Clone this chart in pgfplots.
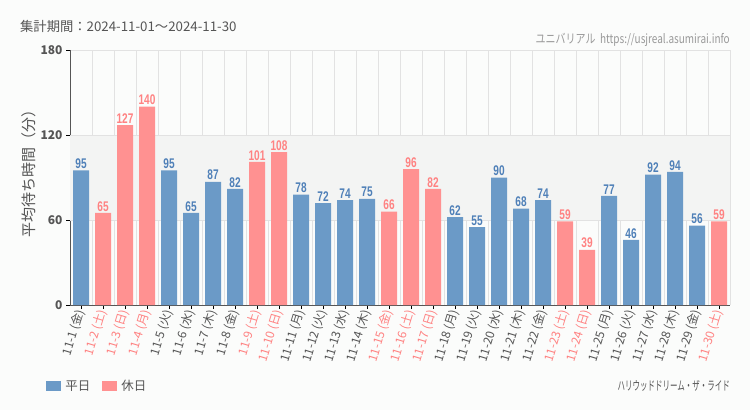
\documentclass[border=0pt]{standalone}
\usepackage{pgfplots}
\pgfplotsset{compat=1.18}
\usepackage{fontspec}
\setmainfont{Noto Sans CJK JP}
\newfontfamily\jp{Noto Sans CJK JP}
\newfontfamily\cond[FakeStretch=0.72]{Liberation Sans}
\newfontfamily\condjp[FakeStretch=0.8]{Noto Sans CJK JP}
\newfontfamily\condjpb[FakeStretch=0.6]{Noto Sans CJK JP}
\definecolor{bg}{HTML}{FBFCFB}
\definecolor{wkbar}{HTML}{6B9AC7}
\definecolor{hobar}{HTML}{FF9191}
\definecolor{wktxt}{HTML}{4F80B8}
\definecolor{hotxt}{HTML}{FF8282}
\definecolor{txt}{HTML}{555555}
\definecolor{gridc}{HTML}{E2E2E2}
\definecolor{band}{HTML}{F3F4F3}
\newcommand{\h}[1]{\textcolor{hotxt}{#1}}
\begin{document}
\begin{tikzpicture}[x=1bp,y=1bp]
\fill[bg] (0,0) rectangle (750,410);
\node[anchor=west,font=\jp\fontsize{13.3bp}{15bp}\selectfont,text=txt,inner sep=0] at (20,384) {集計期間：2024-11-01～2024-11-30};
\node[anchor=east,font=\condjp\fontsize{12.5bp}{14bp}\selectfont,text=gray!80,inner sep=0] at (730,370) {ユニバリアル\ \ https://usjreal.asumirai.info};
\node[anchor=east,font=\condjpb\fontsize{12.5bp}{14bp}\selectfont,text=txt,inner sep=0] at (730,24) {ハリウッドドリーム・ザ・ライド};
\node[rotate=90,font=\jp\fontsize{15bp}{17bp}\selectfont,text=txt,inner sep=0] at (29,240) {平均待ち時間（分）};
\begin{axis}[
  at={(70bp,105bp)}, anchor=south west,
  scale only axis, width=660bp, height=255bp,
  xmin=-0.5, xmax=29.5, ymin=0, ymax=180,
  axis x line*=bottom, axis y line*=left,
  axis line style={txt,line width=0.8pt,-},
  ytick={0,60,120,180},
  ymajorgrids, major grid style={gridc,line width=0.8pt},
  xtick={0,...,29},
  minor xtick={-0.5,0.5,...,29.5},
  xminorgrids, minor grid style={gridc,line width=0.8pt},
  minor tick length=0pt,
  tick align=outside, major tick length=4bp,
  tick style={black,line width=0.8pt},
  yticklabel style={font=\jp\fontsize{12bp}{14bp}\selectfont\bfseries,text=txt},
  /pgf/number format/assume math mode=true,
  xticklabels={11-1 (金),\h{11-2 (土)},\h{11-3 (日)},\h{11-4 (月)},11-5 (火),11-6 (水),11-7 (木),11-8 (金),\h{11-9 (土)},\h{11-10 (日)},11-11 (月),11-12 (火),11-13 (水),11-14 (木),\h{11-15 (金)},\h{11-16 (土)},\h{11-17 (日)},11-18 (月),11-19 (火),11-20 (水),11-21 (木),11-22 (金),\h{11-23 (土)},\h{11-24 (日)},11-25 (月),11-26 (火),11-27 (水),11-28 (木),11-29 (金),\h{11-30 (土)}},
  xticklabel style={font=\jp\fontsize{12bp}{14bp}\selectfont,text=txt,rotate=73,anchor=east,inner sep=1bp},
  ybar, bar width=16bp, bar shift=0pt,
  nodes near coords,
  nodes near coords style={font=\cond\bfseries\fontsize{14bp}{16bp}\selectfont,inner sep=1.5bp},
  legend style={at={(-0.036,-0.318)},anchor=west,draw=none,fill=none,legend columns=2,
     font=\jp\fontsize{12.5bp}{14bp}\selectfont,text=txt,inner sep=0pt,
     /tikz/every odd column/.append style={column sep=2bp},
     /tikz/every even column/.append style={column sep=10bp}},
  legend image code/.code={\fill[#1] (0,-5bp) rectangle (15bp,5bp);},
  clip=false,
]
\fill[band] (axis cs:-0.5,60) rectangle (axis cs:29.5,120);
\draw[gridc,line width=0.8pt] (axis cs:-0.5,60) -- (axis cs:29.5,60);
\draw[gridc,line width=0.8pt] (axis cs:-0.5,120) -- (axis cs:29.5,120);
\addplot[fill=wkbar,draw=none,nodes near coords style={text=wktxt}] coordinates {
(0,95) (4,95) (5,65) (6,87) (7,82) (10,78) (11,72) (12,74) (13,75) (17,62) (18,55) (19,90) (20,68) (21,74) (24,77) (25,46) (26,92) (27,94) (28,56)};
\addlegendentry{平日}
\addplot[fill=hobar,draw=none,nodes near coords style={text=hotxt}] coordinates {
(1,65) (2,127) (3,140) (8,101) (9,108) (14,66) (15,96) (16,82) (22,59) (23,39) (29,59)};
\addlegendentry{休日}
\end{axis}
\end{tikzpicture}
\end{document}
